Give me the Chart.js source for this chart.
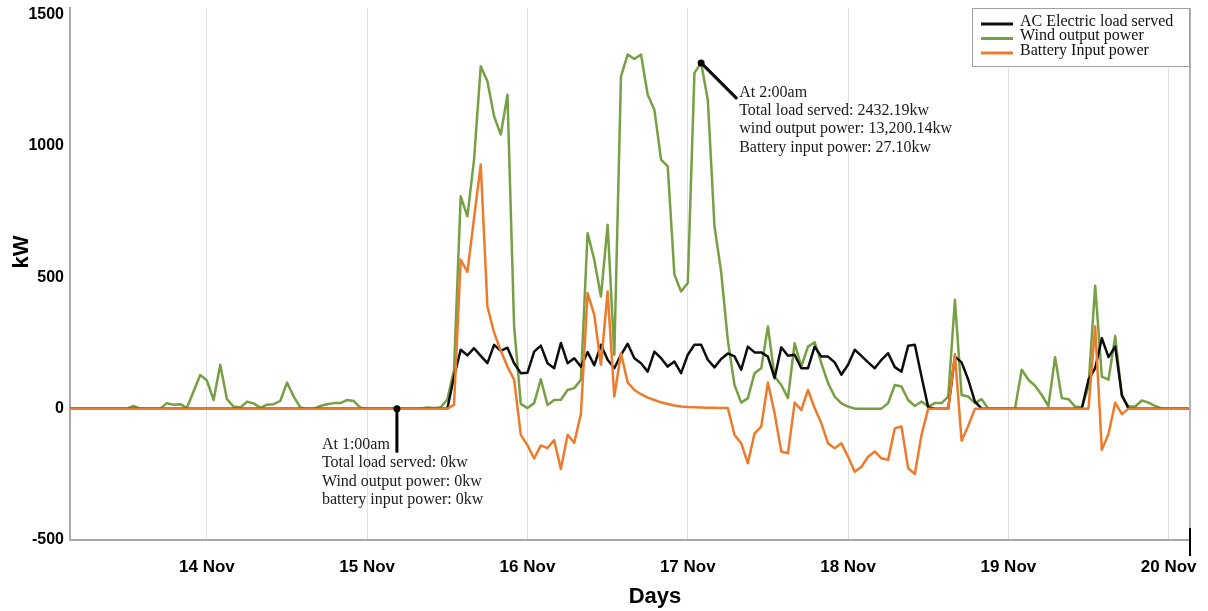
<!DOCTYPE html>
<html>
<head>
<meta charset="utf-8">
<script src="https://cdn.jsdelivr.net/npm/chart.js@4.4.1/dist/chart.umd.min.js"></script>
<style>
  html, body { margin: 0; padding: 0; background: #fff; }
  #wrap { width: 1208px; height: 611px; }
</style>
</head>
<body>
<div id="wrap"><canvas id="c" width="1208" height="611"></canvas></div>
<script>
// Hourly readings, hour 0 = 13 Nov 00:00; first value is hour 3
const startHour = 3;

const dayTicks  = [24, 48, 72, 96, 120, 144, 168];
const dayLabels = ['14 Nov', '15 Nov', '16 Nov', '17 Nov', '18 Nov', '19 Nov', '20 Nov'];
const yTicks    = [-500, 0, 500, 1000, 1500];

const seriesNames = ['AC Electric load served', 'Wind output power', 'Battery Input power'];

// AC electric load served (kW)
const loadKW = [
  0,0,0,0,0,0,0,0,0,
  0,0,0,0,0,0,0,0,0,0,0,0,
  0,0,0,0,0,0,0,0,0,0,0,0,
  0,0,0,0,0,0,0,0,0,0,0,0,
  0,0,0,0,0,0,0,0,0,0,0,0,
  0,122,224,203,230,201,173,243,220,232,173,135,
  137,217,240,173,154,250,173,192,160,215,165,243,
  186,154,205,247,192,173,141,217,192,160,179,135,
  205,243,243,186,157,189,210,199,148,236,214,214,
  198,116,234,201,205,154,154,236,198,198,176,129,
  167,224,201,176,154,186,211,158,141,239,243,122,
  5,0,0,0,198,176,110,27,0,0,0,0,
  0,0,0,0,0,0,0,0,0,0,0,0,
  110,154,268,196,236,52,0,0,0,0,0,0,
  0,0,0,0
];

// Wind output power (kW)
const windKW = [
  0,0,0,0,0,0,0,0,0,
  0,10,0,0,0,0,21,15,17,3,65,128,
  107,33,167,36,8,4,26,20,3,15,17,30,
  99,46,4,0,0,10,17,21,21,33,29,3,
  0,0,0,0,0,0,0,0,0,4,2,5,
  35,148,808,732,948,1303,1246,1113,1043,1195,313,18,
  2,21,112,14,33,34,71,78,110,668,567,427,
  700,205,1265,1348,1331,1348,1195,1138,948,922,510,446,
  478,1278,1316,1176,694,520,260,90,23,40,135,154,
  313,122,90,40,249,160,236,253,173,97,46,20,
  8,0,0,0,0,0,21,90,84,33,10,27,
  8,21,21,46,414,52,46,21,36,0,0,0,
  0,0,148,110,87,52,10,196,40,36,8,5,
  84,468,122,110,277,46,8,8,31,23,10,0,
  0,0,0,0
];

// Battery input power (kW), negative = discharging
const batteryKW = [
  0,0,0,0,0,0,0,0,0,
  0,0,0,0,0,0,0,0,0,0,0,0,
  0,0,0,0,0,0,0,0,0,0,0,0,
  0,0,0,0,0,0,0,0,0,0,0,0,
  0,0,0,0,0,0,0,0,0,0,0,0,
  0,14,567,520,725,929,389,290,220,160,110,-100,
  -140,-190,-140,-150,-120,-230,-100,-130,-20,440,357,167,
  446,46,211,100,71,55,42,33,24,18,12,8,
  6,5,4,3,3,2,2,-100,-132,-208,-94,-68,
  99,-17,-163,-170,23,-5,71,2,-56,-132,-151,-132,
  -183,-240,-221,-183,-163,-189,-195,-75,-68,-227,-249,-100,
  0,0,0,0,207,-122,-65,0,0,0,0,0,
  0,0,0,0,0,0,0,0,0,0,0,0,
  0,313,-157,-96,23,-21,0,0,0,0,0,0,
  0,0,0,0
];

const hours = Array.from({ length: windKW.length }, (_, i) => startHour + i);
const toPoints = arr => arr.map((v, i) => ({ x: hours[i], y: v }));

// Callout notes pinned to a (hour, kW) point
const callouts = [
  { hour: 52.45, value: 0, lines: ['At 1:00am', 'Total load served: 0kw', 'Wind output power: 0kw', 'battery input power: 0kw'] },
  { hour: 98, value: 1316, lines: ['At 2:00am', 'Total load served: 2432.19kw', 'wind output power: 13,200.14kw', 'Battery input power: 27.10kw'] }
];

const xTitle = 'Days';
const yTitle = 'kW';

const COLORS = ['#0d0d0d', '#77a045', '#ee7b2c'];
const SANS = '"Liberation Sans", Arial, sans-serif';
const SERIF = '"Liberation Serif", "Times New Roman", serif';

// keep the plot area fixed: no extra room for overhanging tick labels
const noScalePadding = s => { s.paddingLeft = 0; s.paddingRight = 0; s.paddingTop = 0; s.paddingBottom = 0; };

const overlay = {
  id: 'overlay',
  afterDraw(chart) {
    const { ctx, chartArea: ca, scales: { x, y } } = chart;
    ctx.save();

    // right frame edge
    ctx.strokeStyle = '#b4b4b4';
    ctx.lineWidth = 2;
    ctx.beginPath();
    ctx.moveTo(ca.right, ca.top);
    ctx.lineTo(ca.right, ca.bottom);
    ctx.stroke();

    // axis titles
    ctx.fillStyle = '#000';
    ctx.font = 'bold 22px ' + SANS;
    ctx.textAlign = 'center';
    ctx.textBaseline = 'middle';
    ctx.fillText(xTitle, 655, 597);
    ctx.save();
    ctx.translate(22, 252);
    ctx.rotate(-Math.PI / 2);
    ctx.fillText(yTitle, 0, 0);
    ctx.restore();

    // end marker on the time axis
    ctx.strokeStyle = '#000';
    ctx.lineWidth = 2;
    ctx.beginPath();
    ctx.moveTo(ca.right, ca.bottom - 12);
    ctx.lineTo(ca.right, ca.bottom + 16);
    ctx.stroke();

    // legend box
    ctx.fillStyle = '#fff';
    ctx.fillRect(972, 8, 218, 58);
    ctx.strokeStyle = '#a0a0a0';
    ctx.lineWidth = 1;
    ctx.strokeRect(972.5, 8.5, 217, 58);
    ctx.font = '16px ' + SERIF;
    ctx.textAlign = 'left';
    ctx.textBaseline = 'middle';
    chart.data.datasets.forEach((ds, i) => {
      const ly = 24 + i * 14.5;
      ctx.strokeStyle = ds.borderColor;
      ctx.lineWidth = 3;
      ctx.beginPath();
      ctx.moveTo(981, ly);
      ctx.lineTo(1013, ly);
      ctx.stroke();
      ctx.fillStyle = '#111';
      ctx.fillText(ds.label, 1020, ly - 2.5);
    });

    // callouts
    ctx.font = '16px ' + SERIF;
    ctx.strokeStyle = '#000';
    ctx.lineWidth = 3;
    const c0 = callouts[0];
    let px = x.getPixelForValue(c0.hour), py = y.getPixelForValue(c0.value);
    ctx.beginPath(); ctx.moveTo(px, py); ctx.lineTo(px, py + 44); ctx.stroke();
    ctx.beginPath(); ctx.arc(px, py, 3.5, 0, Math.PI * 2); ctx.fillStyle = '#000'; ctx.fill();
    ctx.fillStyle = '#1a1a1a';
    c0.lines.forEach((t, i) => ctx.fillText(t, px - 75, py + 36 + i * 18.5));

    const c1 = callouts[1];
    px = x.getPixelForValue(c1.hour); py = y.getPixelForValue(c1.value);
    ctx.beginPath(); ctx.moveTo(px, py); ctx.lineTo(px + 36, py + 36); ctx.stroke();
    ctx.beginPath(); ctx.arc(px, py, 3.5, 0, Math.PI * 2); ctx.fillStyle = '#000'; ctx.fill();
    ctx.fillStyle = '#1a1a1a';
    c1.lines.forEach((t, i) => ctx.fillText(t, px + 38, py + 29.5 + i * 18.3));

    ctx.restore();
  }
};

const lineStyle = { borderWidth: 2.5, pointRadius: 0, tension: 0, fill: false, borderJoinStyle: 'round' };

new Chart(document.getElementById('c'), {
  type: 'line',
  data: {
    datasets: [
      { ...lineStyle, label: seriesNames[0], data: toPoints(loadKW), borderColor: COLORS[0], order: 1 },
      { ...lineStyle, label: seriesNames[1], data: toPoints(windKW), borderColor: COLORS[1], order: 2 },
      { ...lineStyle, label: seriesNames[2], data: toPoints(batteryKW), borderColor: COLORS[2], order: 0 }
    ]
  },
  options: {
    responsive: false,
    animation: false,
    devicePixelRatio: 1,
    layout: { padding: { left: 0, top: 8, right: 18, bottom: 0 } },
    plugins: { legend: { display: false }, tooltip: { enabled: false } },
    scales: {
      x: {
        type: 'linear',
        min: 3.5,
        max: 171.2,
        afterBuildTicks: s => { s.ticks = dayTicks.map(v => ({ value: v })); },
        afterFit: s => { s.height = 71; noScalePadding(s); },
        ticks: {
          callback: v => { const k = dayTicks.indexOf(v); return k >= 0 ? dayLabels[k] : ''; },
          font: { family: SANS, weight: 'bold', size: 17 },
          color: '#000',
          padding: 17,
          maxRotation: 0,
          autoSkip: false
        },
        grid: { color: '#e0e0e0', lineWidth: 1, drawTicks: false },
        border: { display: true, color: '#a8a8a8', width: 2 }
      },
      y: {
        min: -500,
        max: 1525,
        afterBuildTicks: s => { s.ticks = yTicks.map(v => ({ value: v })); },
        afterFit: s => { s.width = 70; noScalePadding(s); },
        ticks: {
          callback: v => String(v),
          font: { family: SANS, weight: 'bold', size: 16 },
          color: '#000',
          padding: 6
        },
        grid: { display: false, drawTicks: false },
        border: { display: true, color: '#a8a8a8', width: 2 }
      }
    }
  },
  plugins: [overlay]
});
</script>
</body>
</html>
